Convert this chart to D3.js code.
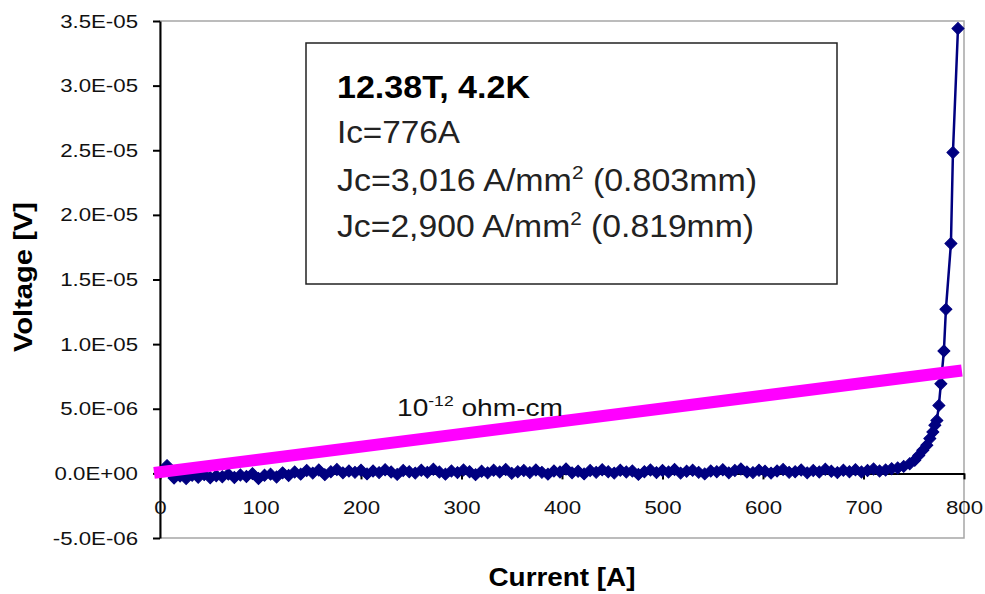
<!DOCTYPE html>
<html>
<head>
<meta charset="utf-8">
<script src="https://cdn.jsdelivr.net/npm/d3@7"></script>
<style>
  body { margin: 0; background: #fff; }
  svg { display: block; font-family: "Liberation Sans", Arial, sans-serif; }
</style>
</head>
<body>
<div id="chart"></div>
<script>
const width = 985;
const height = 594;

// measured V-I trace, current in A, voltage in microvolts
const current = [
  7, 14, 20, 26, 32, 38, 44, 50, 56, 62, 68,
  74, 80, 86, 92, 98, 104, 110, 116, 122, 128,
  134, 140, 146, 152, 158, 164, 170, 176, 182, 188,
  194, 200, 206, 212, 218, 224, 230, 236, 242, 248,
  254, 260, 266, 272, 278, 284, 290, 296, 302, 308,
  314, 320, 326, 332, 338, 344, 350, 356, 362, 368,
  374, 380, 386, 392, 398, 404, 410, 416, 422, 428,
  434, 440, 446, 452, 458, 464, 470, 476, 482, 488,
  494, 500, 506, 512, 518, 524, 530, 536, 542, 548,
  554, 560, 566, 572, 578, 584, 590, 596, 602, 608,
  614, 620, 626, 632, 638, 644, 650, 656, 662, 668,
  674, 680, 686, 692, 698, 704, 710, 716, 722, 728,
  734, 740, 746, 751, 755, 759, 763, 766, 769, 771,
  773, 775, 777, 780, 782, 787, 789, 794
];
const voltage = [
  0.60, -0.36, -0.20, -0.40, -0.14, -0.30, -0.10, -0.34, -0.18, -0.26, -0.06,
  -0.32, -0.12, -0.24, -0.02, -0.40, -0.14, -0.06, -0.28, 0.04, -0.16,
  0.10, -0.06, 0.22, 0.02, 0.26, -0.10, 0.12, 0.30, 0.04, 0.18,
  0.08, 0.24, -0.04, 0.18, 0.06, 0.28, 0.10, -0.08, 0.22, 0.12,
  0.02, 0.24, 0.08, 0.32, 0.10, -0.06, 0.18, 0.06, 0.26, 0.12,
  -0.10, 0.16, 0.04, 0.24, 0.10, 0.30, 0.00, 0.12, 0.22, 0.06,
  0.26, 0.08, -0.06, 0.18, 0.10, 0.34, 0.04, 0.16, -0.04, 0.22,
  0.08, 0.28, 0.12, 0.02, 0.24, 0.10, 0.18, -0.08, 0.12, 0.26,
  0.06, 0.22, 0.10, 0.30, 0.02, 0.16, 0.24, 0.08, -0.04, 0.18,
  0.12, 0.28, 0.04, 0.22, 0.34, 0.10, 0.06, 0.24, 0.16, 0.02,
  0.18, 0.30, 0.08, 0.12, 0.26, 0.04, 0.22, 0.10, 0.32, 0.16,
  0.06, 0.24, 0.12, 0.28, 0.10, 0.22, 0.34, 0.18, 0.26, 0.36,
  0.42, 0.54, 0.75, 1.01, 1.39, 1.78, 2.17, 2.69, 3.20, 3.72,
  4.10, 5.26, 6.94, 9.47, 12.69, 17.78, 24.82, 34.42
];

// 10^-12 ohm-cm criterion line
const criterionCurrent = [0, 792];
const criterionVoltage = [0.10, 7.90];

const xTicks = [0, 100, 200, 300, 400, 500, 600, 700, 800];
const yTicks = [-5e-6, 0, 5e-6, 1e-5, 1.5e-5, 2e-5, 2.5e-5, 3e-5, 3.5e-5];

const boxLines = ["Ic=776A", "Jc=3,016 A/mm", "Jc=2,900 A/mm"];
const boxTails = ["(0.803mm)", "(0.819mm)"];

const x = d3.scaleLinear().domain([0, 800]).range([160, 964]);
const y = d3.scaleLinear().domain([-5e-6, 3.5e-5]).range([538, 21]);

const svg = d3.select("#chart")
    .append("svg")
    .attr("width", width)
    .attr("height", height);

function sci(v) {
    if (v === 0) return "0.0E+00";
    const e = Math.floor(Math.log10(Math.abs(v)) + 1e-9);
    const m = v / Math.pow(10, e);
    return m.toFixed(1) + "E" + (e < 0 ? "-" : "+") + String(Math.abs(e)).padStart(2, "0");
}

function stretch(sel, k) {
    sel.each(function () {
        const w = this.getComputedTextLength();
        d3.select(this).attr("textLength", w * k).attr("lengthAdjust", "spacingAndGlyphs");
    });
}

function fitTo(sel, w) {
    sel.attr("textLength", w).attr("lengthAdjust", "spacingAndGlyphs");
}

// plot area frame
svg.append("rect")
    .attr("x", x(0))
    .attr("y", y(3.5e-5))
    .attr("width", x(800) - x(0))
    .attr("height", y(-5e-6) - y(3.5e-5))
    .attr("fill", "none")
    .attr("stroke", "#a6a6a6")
    .attr("stroke-width", 1.5);

const yAxis = svg.append("g")
    .attr("transform", `translate(${x(0)},0)`)
    .call(d3.axisLeft(y).tickValues(yTicks).tickFormat(sci).tickSize(7).tickSizeOuter(0).tickPadding(15));

const xAxis = svg.append("g")
    .attr("transform", `translate(0,${y(0)})`)
    .call(d3.axisBottom(x).tickValues(xTicks).tickFormat(d3.format("d")).tickSize(6).tickSizeOuter(0));

[yAxis, xAxis].forEach(g => {
    g.selectAll("path, line").attr("stroke", "#000").attr("stroke-width", 2);
    g.selectAll("text")
        .attr("fill", "#111")
        .attr("font-family", "'Liberation Sans', Arial, sans-serif")
        .attr("font-size", 19);
});
xAxis.selectAll("text").attr("y", 41).attr("dy", null);
stretch(yAxis.selectAll("text"), 1.17);
stretch(xAxis.selectAll("text"), 1.17);

// V-I trace
const pts = current.map((c, i) => [c, voltage[i] * 1e-6]);
const line = d3.line().x(d => x(d[0])).y(d => y(d[1]));

svg.append("path")
    .datum(pts)
    .attr("d", line)
    .attr("fill", "none")
    .attr("stroke", "#000080")
    .attr("stroke-width", 2.5);

svg.append("g")
    .selectAll("path")
    .data(pts)
    .join("path")
    .attr("d", d3.symbol(d3.symbolSquare, 72))
    .attr("transform", d => `translate(${x(d[0])},${y(d[1])}) rotate(45)`)
    .attr("fill", "#000080")
    .attr("stroke", "#000080")
    .attr("stroke-width", 1);

// criterion line
const crit = criterionCurrent.map((c, i) => [c, criterionVoltage[i] * 1e-6]);
svg.append("path")
    .datum(crit)
    .attr("d", line)
    .attr("fill", "none")
    .attr("stroke", "#ff00ff")
    .attr("stroke-width", 12)
    .attr("stroke-linecap", "square");

const critLabel = svg.append("text")
    .attr("x", 397)
    .attr("y", 416)
    .attr("font-size", 24)
    .attr("fill", "#111");
critLabel.append("tspan").text("10");
critLabel.append("tspan").attr("font-size", 15).attr("dy", -10).text("-12");
critLabel.append("tspan").attr("dy", 10).text(" ohm-cm");
fitTo(critLabel, 166);

// annotation box
svg.append("rect")
    .attr("x", 306)
    .attr("y", 43)
    .attr("width", 531)
    .attr("height", 241)
    .attr("fill", "#fff")
    .attr("stroke", "#222")
    .attr("stroke-width", 1.5);

const title = svg.append("text")
    .attr("x", 337)
    .attr("y", 98)
    .attr("font-size", 31)
    .attr("font-weight", "bold")
    .attr("fill", "#000")
    .text("12.38T, 4.2K");
fitTo(title, 193);

const line2 = svg.append("text")
    .attr("x", 337)
    .attr("y", 143)
    .attr("font-size", 31)
    .attr("fill", "#222")
    .text(boxLines[0]);
fitTo(line2, 123);

[[boxLines[1], boxTails[0], 191, 420], [boxLines[2], boxTails[1], 237, 417]].forEach(([head, tail, yy, w]) => {
    const t = svg.append("text")
        .attr("x", 337)
        .attr("y", yy)
        .attr("font-size", 31)
        .attr("fill", "#222");
    t.append("tspan").text(head);
    t.append("tspan").attr("font-size", 19).attr("dy", -12).text("2");
    t.append("tspan").attr("dy", 12).text(" " + tail);
    fitTo(t, w);
});

// axis titles
const xTitle = svg.append("text")
    .attr("x", 562)
    .attr("y", 586)
    .attr("text-anchor", "middle")
    .attr("font-size", 26)
    .attr("font-weight", "bold")
    .attr("fill", "#000")
    .text("Current [A]");
fitTo(xTitle, 147);

const yTitle = svg.append("text")
    .attr("transform", "translate(32,277) rotate(-90)")
    .attr("text-anchor", "middle")
    .attr("font-size", 26)
    .attr("font-weight", "bold")
    .attr("fill", "#000")
    .text("Voltage [V]");
fitTo(yTitle, 150);
</script>
</body>
</html>
